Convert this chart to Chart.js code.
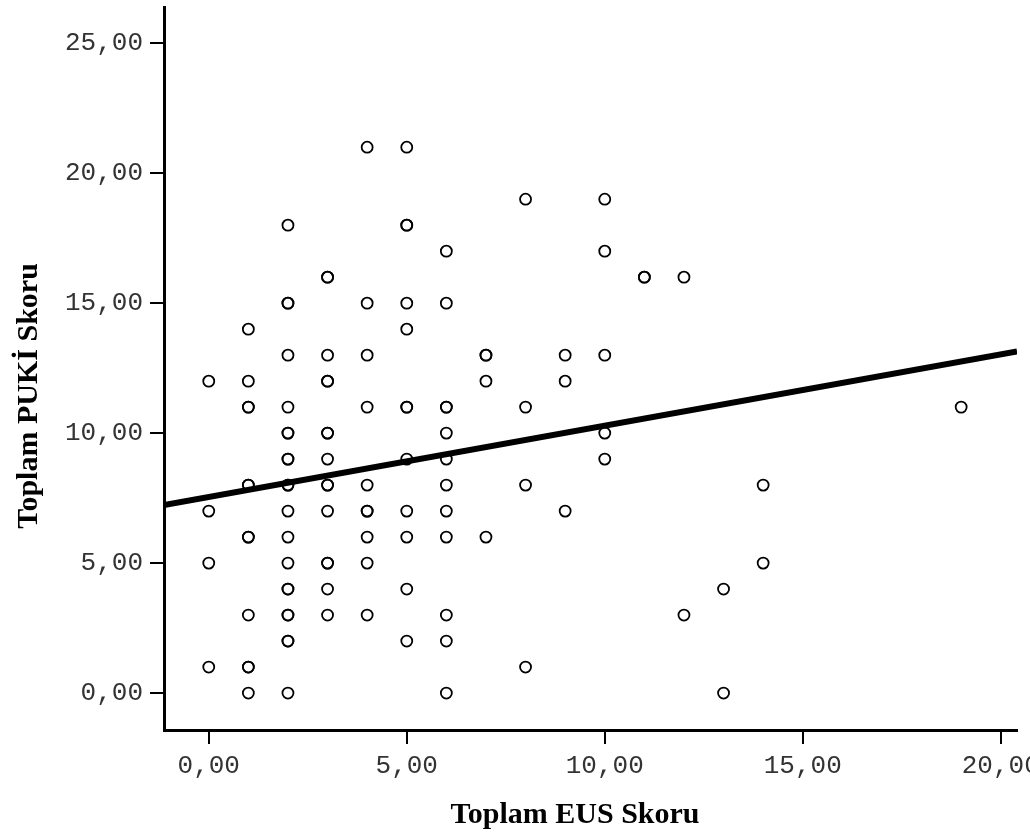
<!DOCTYPE html>
<html>
<head>
<meta charset="utf-8">
<script src="https://cdn.jsdelivr.net/npm/chart.js@4.4.1/dist/chart.umd.min.js"></script>
<style>
  html, body { margin: 0; padding: 0; background: #fff; overflow: hidden; }
  canvas { display: block; }
</style>
</head>
<body>
<canvas id="scatter" width="1100" height="838"></canvas>
<script>
// ================= DATA =================
// one entry per case, grouped by EUS score
const eusScore = [
    0, 0, 0, 0,
    1, 1, 1, 1, 1, 1, 1, 1, 1, 1, 1, 1,
    2, 2, 2, 2, 2, 2, 2, 2, 2, 2, 2, 2, 2, 2, 2, 2, 2, 2, 2, 2, 2,
    3, 3, 3, 3, 3, 3, 3, 3, 3, 3, 3, 3, 3, 3, 3,
    4, 4, 4, 4, 4, 4, 4, 4, 4, 4,
    5, 5, 5, 5, 5, 5, 5, 5, 5, 5, 5, 5,
    6, 6, 6, 6, 6, 6, 6, 6, 6, 6, 6, 6,
    7, 7, 7, 7,
    8, 8, 8, 8,
    9, 9, 9,
    10, 10, 10, 10, 10,
    11, 11,
    12, 12,
    13, 13,
    14, 14,
    19
];
const pukiScore = [
    12, 7, 5, 1,
    14, 12, 11, 11, 8, 8, 6, 6, 3, 1, 1, 0,
    18, 15, 15, 13, 11, 10, 10, 9, 9, 8, 8, 7, 6, 5, 4, 4, 3, 3, 2, 2, 0,
    16, 16, 13, 12, 12, 10, 10, 9, 8, 8, 7, 5, 5, 4, 3,
    21, 15, 13, 11, 8, 7, 7, 6, 5, 3,
    21, 18, 18, 15, 14, 11, 11, 9, 7, 6, 4, 2,
    17, 15, 11, 11, 10, 9, 8, 7, 6, 3, 2, 0,
    13, 13, 12, 6,
    19, 11, 8, 1,
    13, 12, 7,
    19, 17, 13, 10, 9,
    16, 16,
    16, 3,
    4, 0,
    8, 5,
    11
];
// fit line, read at the two edges of the plot
const fitLineX = [-1.13, 20.41];
const fitLineY = [7.23, 13.14];

const xTickValues = [0, 5, 10, 15, 20];
const yTickValues = [0, 5, 10, 15, 20, 25];
const xRange = [-1.13, 20.41];
const yRange = [-1.42, 26.38];

const xTitle = "Toplam EUS Skoru";
const yTitle = "Toplam PUKİ Skoru";

// ================= HELPERS =================
const fmt = v => Number(v).toFixed(2).replace('.', ',');
const tickFont = { family: '"Liberation Mono", "Courier New", monospace', size: 26 };

const axisTitles = {
    id: 'axisTitles',
    afterDraw(chart) {
        const ctx = chart.ctx;
        ctx.save();
        ctx.fillStyle = '#000';
        ctx.font = 'bold 30px "Liberation Serif", "Times New Roman", serif';
        ctx.textAlign = 'center';
        ctx.textBaseline = 'alphabetic';
        ctx.fillText(xTitle, 575, 823);
        ctx.translate(37, 396);
        ctx.rotate(-Math.PI / 2);
        ctx.fillText(yTitle, 0, 0);
        ctx.restore();
    }
};

// ================= CHART =================
new Chart(document.getElementById('scatter').getContext('2d'), {
    type: 'scatter',
    data: {
        datasets: [
            {
                label: 'fit',
                data: fitLineX.map((x, i) => ({ x, y: fitLineY[i] })),
                showLine: true,
                borderColor: '#000',
                borderWidth: 6,
                pointRadius: 0,
                order: 0
            },
            {
                label: 'cases',
                data: eusScore.map((x, i) => ({ x, y: pukiScore[i] })),
                pointStyle: 'circle',
                pointRadius: 5.5,
                borderWidth: 1.8,
                borderColor: '#000',
                backgroundColor: 'rgba(0,0,0,0)',
                order: 1
            }
        ]
    },
    options: {
        responsive: false,
        animation: false,
        devicePixelRatio: 1,
        layout: { padding: { top: 5, right: 83, left: 0, bottom: 0 } },
        plugins: { legend: { display: false }, tooltip: { enabled: false } },
        scales: {
            x: {
                type: 'linear',
                min: xRange[0], max: xRange[1],
                afterBuildTicks: s => { s.ticks = xTickValues.map(v => ({ value: v })); },
                afterFit: s => { s.height = 108; },
                ticks: { font: tickFont, color: '#333', padding: 7, maxRotation: 0, autoSkip: false, callback: fmt },
                grid: { drawOnChartArea: false, drawTicks: true, tickLength: 14, color: '#000', lineWidth: 2 },
                border: { color: '#000', width: 3 }
            },
            y: {
                type: 'linear',
                min: yRange[0], max: yRange[1],
                afterBuildTicks: s => { s.ticks = yTickValues.map(v => ({ value: v })); },
                afterFit: s => { s.width = 164; s.paddingTop = 0; s.paddingBottom = 0; },
                ticks: { font: tickFont, color: '#333', padding: 7, autoSkip: false, callback: fmt },
                grid: { drawOnChartArea: false, drawTicks: true, tickLength: 14, color: '#000', lineWidth: 2 },
                border: { color: '#000', width: 3 }
            }
        }
    },
    plugins: [axisTitles]
});
</script>
</body>
</html>
